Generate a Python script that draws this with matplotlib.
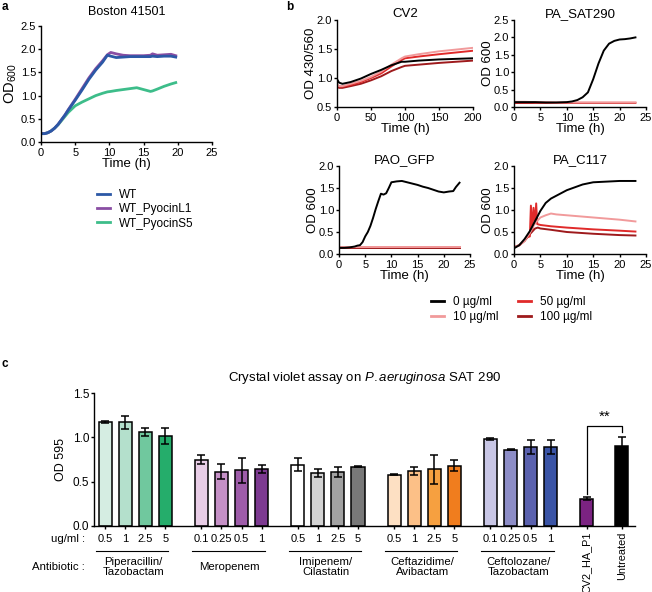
import matplotlib
matplotlib.use("Agg")
import matplotlib.pyplot as plt
import matplotlib.transforms as mtransforms
from matplotlib.lines import Line2D

plt.rcParams['font.family'] = ['Liberation Sans', 'DejaVu Sans']
plt.rcParams['mathtext.fontset'] = 'custom'
plt.rcParams['mathtext.rm'] = 'Liberation Sans'
plt.rcParams['mathtext.it'] = 'Liberation Sans:italic'
plt.rcParams['mathtext.default'] = 'regular'
plt.rcParams['axes.linewidth'] = 1.0
plt.rcParams['xtick.major.width'] = 1.0
plt.rcParams['ytick.major.width'] = 1.0
plt.rcParams['xtick.major.size'] = 2.5
plt.rcParams['ytick.major.size'] = 2.5
plt.rcParams['xtick.major.pad'] = 1.5
plt.rcParams['ytick.major.pad'] = 1.0

# ---- panel a data ----
t_a = [0, 0.5, 1, 1.5, 2, 2.5, 3, 3.5, 4, 5, 6, 7, 8, 9, 9.7, 10.2, 11, 12, 13, 14, 15, 16, 16.3, 17, 18, 19, 19.7]
wt = [0.18, 0.18, 0.2, 0.24, 0.3, 0.38, 0.48, 0.58, 0.69, 0.9, 1.12, 1.35, 1.55, 1.72, 1.87, 1.85, 1.82,
      1.83, 1.84, 1.84, 1.84, 1.84, 1.85, 1.84, 1.85, 1.85, 1.83]
pyocin_l1 = [0.18, 0.18, 0.2, 0.24, 0.3, 0.38, 0.48, 0.58, 0.7, 0.92, 1.15, 1.38, 1.58, 1.75, 1.88, 1.93, 1.9,
             1.87, 1.86, 1.86, 1.86, 1.87, 1.9, 1.87, 1.88, 1.89, 1.86]
pyocin_s5 = [0.18, 0.18, 0.2, 0.24, 0.3, 0.37, 0.46, 0.55, 0.64, 0.78, 0.86, 0.93, 1.0, 1.05, 1.08, 1.09, 1.11,
             1.13, 1.15, 1.17, 1.13, 1.09, 1.1, 1.14, 1.2, 1.25, 1.28]

# ---- panel b data ----
t_cv2 = [0, 3, 8, 20, 35, 50, 65, 80, 95, 100, 120, 150, 175, 200]
cv2_0 = [0.98, 0.92, 0.9, 0.93, 0.99, 1.07, 1.14, 1.22, 1.28, 1.28, 1.3, 1.32, 1.33, 1.34]
cv2_10 = [0.9, 0.86, 0.86, 0.9, 0.95, 1.02, 1.11, 1.23, 1.34, 1.37, 1.41, 1.46, 1.49, 1.52]
cv2_50 = [0.88, 0.85, 0.85, 0.88, 0.93, 1.0, 1.08, 1.2, 1.31, 1.34, 1.37, 1.41, 1.44, 1.47]
cv2_100 = [0.86, 0.83, 0.83, 0.86, 0.9, 0.96, 1.03, 1.12, 1.19, 1.21, 1.23, 1.26, 1.28, 1.3]

t_sat = [0, 2, 4, 6, 8, 10, 11, 12, 13, 14, 15, 16, 17, 18, 19, 20, 21, 22, 23]
sat_0 = [0.14, 0.14, 0.14, 0.13, 0.13, 0.14, 0.16, 0.2, 0.28, 0.42, 0.8, 1.25, 1.62, 1.82, 1.9, 1.94, 1.95, 1.97, 2.0]
sat_10 = [0.15, 0.15, 0.14, 0.14, 0.13, 0.13, 0.13, 0.13, 0.13, 0.13, 0.13, 0.13, 0.13, 0.13, 0.13, 0.13, 0.13, 0.13, 0.13]
sat_50 = [0.13, 0.13, 0.13, 0.12, 0.12, 0.12, 0.12, 0.12, 0.12, 0.12, 0.12, 0.12, 0.12, 0.12, 0.12, 0.12, 0.12, 0.12, 0.12]
sat_100 = [0.12, 0.12, 0.12, 0.12, 0.12, 0.12, 0.12, 0.12, 0.12, 0.12, 0.12, 0.12, 0.12, 0.12, 0.12, 0.12, 0.12, 0.12, 0.12]

t_pao = [0, 1, 2, 3, 3.5, 4, 4.5, 5, 5.5, 6, 6.5, 7, 7.5, 8, 8.5, 9, 9.5, 10, 11, 12, 13, 14, 15, 16, 17, 18,
         19, 20, 21, 21.8, 22.3, 23]
pao_0 = [0.14, 0.14, 0.15, 0.17, 0.19, 0.2, 0.27, 0.4, 0.5, 0.64, 0.82, 1.02, 1.2, 1.37, 1.35, 1.38, 1.5, 1.63,
         1.65, 1.66, 1.63, 1.6, 1.57, 1.53, 1.5, 1.46, 1.42, 1.4, 1.42, 1.43, 1.52, 1.62]
t_pao_low = [0, 5, 10, 15, 20, 23]
pao_10 = [0.17, 0.17, 0.17, 0.17, 0.17, 0.17]
pao_50 = [0.15, 0.15, 0.15, 0.15, 0.15, 0.15]
pao_100 = [0.14, 0.14, 0.14, 0.14, 0.14, 0.14]

t_c117 = [0, 1, 2, 3, 4, 5, 6, 7, 10, 13, 15, 20, 23]
c117_0 = [0.13, 0.2, 0.34, 0.52, 0.75, 0.98, 1.16, 1.26, 1.45, 1.58, 1.63, 1.66, 1.66]
t_c117_10 = [0, 1, 2, 3, 3.5, 4, 5, 6, 7, 8, 10, 15, 20, 23]
c117_10 = [0.15, 0.2, 0.3, 0.48, 0.6, 0.7, 0.83, 0.88, 0.92, 0.9, 0.88, 0.83, 0.78, 0.74]
t_c117_50 = [0, 1, 2, 2.5, 3, 3.2, 3.5, 3.7, 4, 4.2, 4.4, 5, 7, 10, 15, 20, 23]
c117_50 = [0.15, 0.2, 0.3, 0.38, 0.4, 1.1, 0.55, 1.05, 0.7, 1.15, 0.68, 0.66, 0.63, 0.6, 0.56, 0.53, 0.51]
t_c117_100 = [0, 1, 2, 3, 4, 4.5, 5, 7, 10, 15, 20, 23]
c117_100 = [0.15, 0.2, 0.3, 0.45, 0.58, 0.6, 0.58, 0.55, 0.5, 0.46, 0.43, 0.42]

# ---- panel c data ----
groups = ['Piperacillin/\nTazobactam', 'Meropenem', 'Imipenem/\nCilastatin',
          'Ceftazidime/\nAvibactam', 'Ceftolozane/\nTazobactam']
doses = [['0.5', '1', '2.5', '5'], ['0.1', '0.25', '0.5', '1'], ['0.5', '1', '2.5', '5'],
         ['0.5', '1', '2.5', '5'], ['0.1', '0.25', '0.5', '1']]
od595 = [[1.17, 1.17, 1.06, 1.02], [0.75, 0.61, 0.63, 0.64], [0.69, 0.6, 0.61, 0.67],
         [0.58, 0.62, 0.64, 0.68], [0.98, 0.86, 0.89, 0.89]]
od595_err = [[0.01, 0.075, 0.05, 0.09], [0.05, 0.085, 0.14, 0.045], [0.075, 0.045, 0.055, 0.01],
             [0.01, 0.045, 0.165, 0.06], [0.015, 0.005, 0.08, 0.075]]
bar_colors = [['#d5ede2', '#b4e0cc', '#70c89e', '#25ad6b'],
              ['#e8cde6', '#c590c6', '#9e5ca9', '#7d3a91'],
              ['#ffffff', '#d3d3d3', '#a2a2a2', '#787878'],
              ['#fde0c3', '#fcc087', '#f6a040', '#f07d1e'],
              ['#c8c6e5', '#8d8dc7', '#5a61ae', '#3a54a6']]
controls = ['CV2_HA_P1', 'Untreated']
control_od = [0.31, 0.9]
control_err = [0.015, 0.105]
control_colors = ['#7b2382', '#000000']

W, H = 652, 592
fig = plt.figure(figsize=(W / 100, H / 100), dpi=100)


def box(l, t, r, b):
    return [l / W, 1 - b / H, (r - l) / W, (b - t) / H]


def style(ax):
    ax.spines['top'].set_visible(False)
    ax.spines['right'].set_visible(False)
    ax.tick_params(labelsize=8)


def fmt1(ax, ticks):
    ax.set_yticks(ticks)
    ax.set_yticklabels(['%.1f' % v for v in ticks])


# panel a
ax = fig.add_axes(box(41, 26, 212, 142))
style(ax)
ax.plot(t_a, pyocin_s5, color='#3dbd8a', lw=2)
ax.plot(t_a, pyocin_l1, color='#8a4ea3', lw=2)
ax.plot(t_a, wt, color='#2c58a6', lw=2)
ax.set_xlim(0, 25)
ax.set_ylim(0, 2.5)
ax.set_xticks([0, 5, 10, 15, 20, 25])
fmt1(ax, [0, 0.5, 1.0, 1.5, 2.0, 2.5])
ax.set_xlabel('Time (h)', fontsize=9.5, labelpad=0)
ax.set_ylabel('OD$_{600}$', fontsize=10.5, labelpad=1)
ax.set_title('Boston 41501', fontsize=9, pad=8)
ha = [Line2D([], [], color=c, lw=2) for c in ['#2c58a6', '#8a4ea3', '#3dbd8a']]
fig.legend(ha, ['WT', 'WT_PyocinL1', 'WT_PyocinS5'], loc='upper left',
           bbox_to_anchor=(91 / W, 1 - 183 / H), frameon=False, fontsize=8.5,
           handlelength=1.1, handletextpad=0.8, labelspacing=0.2, borderpad=0)

# panel b
b_colors = ['#000000', '#f19a9b', '#e02a2a', '#9e1a1c']


def growth(bx, title, curves, xlim, xticks, ylim, yticks, ylabel):
    ax = fig.add_axes(box(*bx))
    style(ax)
    for t, y, c in reversed(curves):
        ax.plot(t, y, color=c, lw=1.4)
    ax.set_xlim(*xlim)
    ax.set_ylim(*ylim)
    ax.set_xticks(xticks)
    fmt1(ax, yticks)
    ax.set_title(title, fontsize=9.5, pad=0)
    ax.set_xlabel('Time (h)', fontsize=9.5, labelpad=0)
    ax.set_ylabel(ylabel, fontsize=9.5, labelpad=0)
    return ax


growth((337, 20, 473, 107), 'CV2',
       [(t_cv2, cv2_0, b_colors[0]), (t_cv2, cv2_10, b_colors[1]),
        (t_cv2, cv2_50, b_colors[2]), (t_cv2, cv2_100, b_colors[3])],
       (0, 200), [0, 50, 100, 150, 200], (0.5, 2.0), [0.5, 1.0, 1.5, 2.0], 'OD 430/560')
growth((514, 20, 646, 107), 'PA_SAT290',
       [(t_sat, sat_0, b_colors[0]), (t_sat, sat_10, b_colors[1]),
        (t_sat, sat_50, b_colors[2]), (t_sat, sat_100, b_colors[3])],
       (0, 25), [0, 5, 10, 15, 20, 25], (0, 2.5), [0, 0.5, 1.0, 1.5, 2.0, 2.5], 'OD 600')
growth((339, 166, 470, 254), 'PAO_GFP',
       [(t_pao, pao_0, b_colors[0]), (t_pao_low, pao_10, b_colors[1]),
        (t_pao_low, pao_50, b_colors[2]), (t_pao_low, pao_100, b_colors[3])],
       (0, 25), [0, 5, 10, 15, 20, 25], (0, 2.0), [0, 0.5, 1.0, 1.5, 2.0], 'OD 600')
growth((514, 166, 646, 254), 'PA_C117',
       [(t_c117, c117_0, b_colors[0]), (t_c117_10, c117_10, b_colors[1]),
        (t_c117_50, c117_50, b_colors[2]), (t_c117_100, c117_100, b_colors[3])],
       (0, 25), [0, 5, 10, 15, 20, 25], (0, 2.0), [0, 0.5, 1.0, 1.5, 2.0], 'OD 600')
hb = [Line2D([], [], color=c, lw=2) for c in b_colors]
fig.legend(hb, ['0 µg/ml', '10 µg/ml', '50 µg/ml', '100 µg/ml'], ncol=2, loc='upper left',
           bbox_to_anchor=(425 / W, 1 - 290 / H), frameon=False, fontsize=8.5,
           handlelength=1.1, handletextpad=0.8, labelspacing=0.3, columnspacing=1.6, borderpad=0)

# panel c
ax = fig.add_axes(box(94, 393, 635, 526))
style(ax)
gstep = 4.8
xt, xl = [], []
for g in range(len(groups)):
    xs = [g * gstep + i for i in range(4)]
    ax.bar(xs, od595[g], width=0.65, color=bar_colors[g], edgecolor='black', linewidth=1.1)
    ax.errorbar(xs, od595[g], yerr=od595_err[g], fmt='none', ecolor='black', elinewidth=1.1,
                capsize=3, capthick=1.1)
    xt += xs
    xl += doses[g]
cx = [len(groups) * gstep, len(groups) * gstep + 1.75]
ax.bar(cx, control_od, width=0.65, color=control_colors, edgecolor='black', linewidth=1.1)
ax.errorbar(cx, control_od, yerr=control_err, fmt='none', ecolor='black', elinewidth=1.1,
            capsize=3, capthick=1.1)
ax.set_xticks(xt + cx)
ax.set_xticklabels(xl + ['', ''])
ax.tick_params(axis='x', length=2.5, labelsize=8, pad=3)
ax.tick_params(axis='y', labelsize=8.5)
ax.set_xlim(-0.55, 26.4)
ax.set_ylim(0, 1.5)
fmt1(ax, [0, 0.5, 1.0, 1.5])
ax.set_ylabel('OD 595', fontsize=9, labelpad=4)
ax.set_title('Crystal violet assay on $\\it{P.aeruginosa}$ SAT 290', fontsize=9.5, pad=9, x=0.5)

trans = mtransforms.blended_transform_factory(ax.transData, ax.transAxes)
for g in range(len(groups)):
    x0 = g * gstep
    ax.plot([x0 - 0.45, x0 + 3.15], [-0.19, -0.19], color='black', lw=0.8,
            transform=trans, clip_on=False)
    ax.text(x0 + 1.4, -0.31, groups[g], transform=trans, ha='center', va='center',
            fontsize=8.2, linespacing=1.05)
for x, name in zip(cx, controls):
    ax.text(x, -0.045, name, transform=trans, rotation=90, ha='center', va='top', fontsize=7.8)
ax.text(-1.0, -0.095, 'ug/ml :', transform=trans, ha='right', va='center', fontsize=8.2)
ax.text(-1.0, -0.31, 'Antibiotic :', transform=trans, ha='right', va='center', fontsize=8.2)

# significance bracket
ax.plot([cx[0], cx[0], cx[1], cx[1]], [0.36, 1.13, 1.13, 1.065], color='black', lw=0.9)
ax.text((cx[0] + cx[1]) / 2, 1.15, '**', ha='center', va='bottom', fontsize=11)

# panel letters
fig.text(2 / W, 1 - 7 / H, 'a', fontsize=8.5, fontweight='bold', va='center')
fig.text(286 / W, 1 - 7 / H, 'b', fontsize=8.5, fontweight='bold', va='center')
fig.text(2 / W, 1 - 364 / H, 'c', fontsize=8.5, fontweight='bold', va='center')

fig.savefig('out.png', dpi=100)
